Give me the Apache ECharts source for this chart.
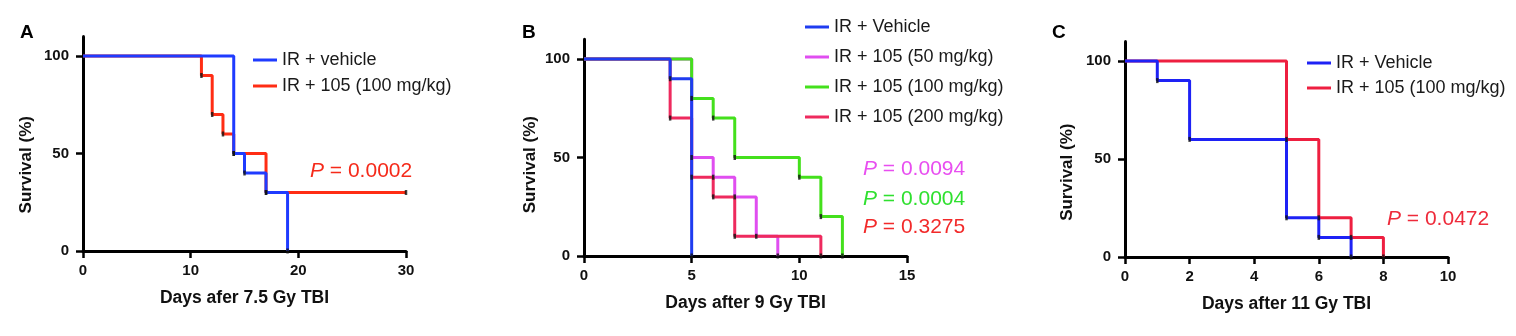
<!DOCTYPE html>
<html>
<head>
<meta charset="utf-8">
<script src="https://cdn.jsdelivr.net/npm/echarts@6/dist/echarts.min.js"></script>
<style>
html,body{margin:0;padding:0;background:#fff;}
#c{width:1516px;height:336px;}
</style>
</head>
<body>
<div id="c"></div>
<script>
// ---------- DATA ----------
// Panel A: 7.5 Gy TBI
const A_vehicle_days = [0, 14, 15, 17, 19];
const A_vehicle_surv = [100, 50, 40, 30, 0];
const A_105_100_days = [0, 11, 12, 13, 14, 17, 30];
const A_105_100_surv = [100, 90, 70, 60, 50, 30, 30];
// Panel B: 9 Gy TBI
const B_vehicle_days = [0, 4, 5];
const B_vehicle_surv = [100, 90, 0];
const B_105_50_days = [0, 5, 6, 7, 8, 9];
const B_105_50_surv = [100, 50, 40, 30, 10, 0];
const B_105_100_days = [0, 5, 6, 7, 10, 11, 12];
const B_105_100_surv = [100, 80, 70, 50, 40, 20, 0];
const B_105_200_days = [0, 4, 5, 6, 7, 11];
const B_105_200_surv = [100, 70, 40, 30, 10, 0];
// Panel C: 11 Gy TBI
const C_vehicle_days = [0, 1, 2, 5, 6, 7];
const C_vehicle_surv = [100, 90, 60, 20, 10, 0];
const C_105_100_days = [0, 5, 6, 7, 8];
const C_105_100_surv = [100, 60, 20, 10, 0];

// tick labels
const yTicks = [0, 50, 100];
const A_xTicks = [0, 10, 20, 30];
const B_xTicks = [0, 5, 10, 15];
const C_xTicks = [0, 2, 4, 6, 8, 10];

// texts
const panelLetters = ['A', 'B', 'C'];
const xTitles = ['Days afer 7.5 Gy TBI', 'Days after 9 Gy TBI', 'Days after 11 Gy TBI'];
const yTitle = 'Survival (%)';
const A_pValues = ['0.0002'];
const B_pValues = ['0.0094', '0.0004', '0.3275'];
const C_pValues = ['0.0472'];

// ---------- CHART ----------
const FONT = "'Liberation Sans', Arial, Helvetica, sans-serif";
const chart = echarts.init(document.getElementById('c'), null, {renderer: 'canvas'});

const grids = [
  {left: 83, top: 36.5, width: 323, height: 214.5},
  {left: 584, top: 39.3, width: 323, height: 216.7},
  {left: 1125, top: 41.4, width: 323, height: 215.6}
];
const xMax = [30, 15, 10];
const xTickArr = [A_xTicks, B_xTicks, C_xTicks];
const yNamePad = [42, 34, 46];
const yNameGap = [48, 45, 49];

const xAxes = grids.map((g, i) => ({
  type: 'value', gridIndex: i, min: 0, max: xMax[i],
  name: xTitles[i], nameLocation: 'middle', nameGap: 38,
  nameTextStyle: {fontFamily: FONT, fontWeight: 'bold', fontSize: 17.5, color: '#111'},
  axisLine: {show: true, onZero: false, lineStyle: {color: '#000', width: 3}},
  axisTick: {show: true, length: 7, lineStyle: {color: '#000', width: 2.5}, customValues: xTickArr[i]},
  axisLabel: {fontFamily: FONT, fontWeight: 'bold', fontSize: 15, color: '#111', margin: 12, customValues: xTickArr[i]},
  splitLine: {show: false}
}));
const yAxes = grids.map((g, i) => ({
  type: 'value', gridIndex: i, min: 0, max: 110,
  name: yTitle, nameLocation: 'middle', nameGap: yNameGap[i], nameRotate: 90,
  nameTextStyle: {fontFamily: FONT, fontWeight: 'bold', fontSize: 17, color: '#111', padding: [0, yNamePad[i], 0, 0]},
  axisLine: {show: true, onZero: false, lineStyle: {color: '#000', width: 3}},
  axisTick: {show: true, length: 7, lineStyle: {color: '#000', width: 2.5}, customValues: yTicks},
  axisLabel: {fontFamily: FONT, fontWeight: 'bold', fontSize: 15, color: '#111', margin: 14, customValues: yTicks},
  splitLine: {show: false}
}));

function zip(d, s) { return d.map((x, k) => [x, s[k]]); }
function stepSeries(name, idx, days, surv, color, z) {
  return {
    name: name, type: 'line', step: 'end', xAxisIndex: idx, yAxisIndex: idx,
    data: zip(days, surv), showSymbol: false, symbol: 'none', color: color,
    lineStyle: {color: color, width: 3}, z: z, animation: false
  };
}
function markSeries(idx, days, surv, z) {
  return {
    type: 'scatter', xAxisIndex: idx, yAxisIndex: idx,
    data: zip(days, surv).slice(1), symbol: 'rect', symbolSize: [2.5, 5],
    itemStyle: {color: '#111'}, z: z, animation: false, silent: true
  };
}

const cA = {veh: '#1f3bff', t: '#ff2d14'};
const cB = {veh: '#1f3cf0', m: '#e04ef0', g: '#44e01c', r: '#ee2a5e'};
const cC = {veh: '#1e22f5', t: '#ee1f40'};

const series = [
  stepSeries('IR + 105 (100 mg/kg)', 0, A_105_100_days, A_105_100_surv, cA.t, 2),
  stepSeries('IR + vehicle', 0, A_vehicle_days, A_vehicle_surv, cA.veh, 3),
  markSeries(0, A_105_100_days, A_105_100_surv, 5),
  markSeries(0, A_vehicle_days, A_vehicle_surv, 5),

  stepSeries('IR + 105 (50 mg/kg)', 1, B_105_50_days, B_105_50_surv, cB.m, 2),
  stepSeries('IR + 105 (100 mg/kg) ', 1, B_105_100_days, B_105_100_surv, cB.g, 2),
  stepSeries('IR + 105 (200 mg/kg)', 1, B_105_200_days, B_105_200_surv, cB.r, 2),
  stepSeries('IR + Vehicle', 1, B_vehicle_days, B_vehicle_surv, cB.veh, 3),
  markSeries(1, B_105_50_days, B_105_50_surv, 5),
  markSeries(1, B_105_100_days, B_105_100_surv, 5),
  markSeries(1, B_105_200_days, B_105_200_surv, 5),
  markSeries(1, B_vehicle_days, B_vehicle_surv, 5),

  stepSeries('IR + 105 (100 mg/kg)  ', 2, C_105_100_days, C_105_100_surv, cC.t, 2),
  stepSeries('IR + Vehicle ', 2, C_vehicle_days, C_vehicle_surv, cC.veh, 3),
  markSeries(2, C_105_100_days, C_105_100_surv, 5),
  markSeries(2, C_vehicle_days, C_vehicle_surv, 5)
];

function legend(names, left, top, gap) {
  return {
    data: names, orient: 'vertical', left: left, top: top, itemGap: gap,
    icon: 'rect', itemWidth: 24, itemHeight: 3, padding: 0, selectedMode: false,
    textStyle: {fontFamily: FONT, fontSize: 18, color: '#1a1a1a', lineHeight: 20},
    formatter: n => n.trim()
  };
}

const pRich = (color) => ({
  i: {fontFamily: FONT, fontStyle: 'italic', fontWeight: 'normal', fontSize: 21, color: color, lineHeight: 24},
  n: {fontFamily: FONT, fontStyle: 'normal', fontWeight: 'normal', fontSize: 21, color: color, lineHeight: 24}
});
function pTitle(val, left, centerY, color) {
  return {
    text: '{i|P}{n| = ' + val + '}', left: left, top: centerY - 12, padding: 0,
    textStyle: {rich: pRich(color), fontWeight: 'normal', fontSize: 21, lineHeight: 24}
  };
}
const letterPos = [[20, 22], [522, 22], [1052, 22]];
const titles = panelLetters.map((t, i) => ({
  text: t, left: letterPos[i][0], top: letterPos[i][1], padding: 0,
  textStyle: {fontFamily: FONT, fontWeight: 'bold', fontSize: 19, color: '#000', lineHeight: 22}
}));
titles.push(pTitle(A_pValues[0], 310, 171, '#f52a1a'));
titles.push(pTitle(B_pValues[0], 863, 169, '#e84ef0'));
titles.push(pTitle(B_pValues[1], 863, 199, '#2fe02f'));
titles.push(pTitle(B_pValues[2], 863, 227, '#f22a2a'));
titles.push(pTitle(C_pValues[0], 1387, 219, '#ee2a3a'));

chart.setOption({
  animation: false,
  backgroundColor: '#fff',
  title: titles,
  grid: grids,
  xAxis: xAxes,
  yAxis: yAxes,
  legend: [
    legend(['IR + vehicle', 'IR + 105 (100 mg/kg)'], 253, 50, 6),
    legend(['IR + Vehicle', 'IR + 105 (50 mg/kg)', 'IR + 105 (100 mg/kg) ', 'IR + 105 (200 mg/kg)'], 805, 17, 10),
    legend(['IR + Vehicle ', 'IR + 105 (100 mg/kg)  '], 1307, 53, 5)
  ],
  series: series
});
</script>
</body>
</html>
